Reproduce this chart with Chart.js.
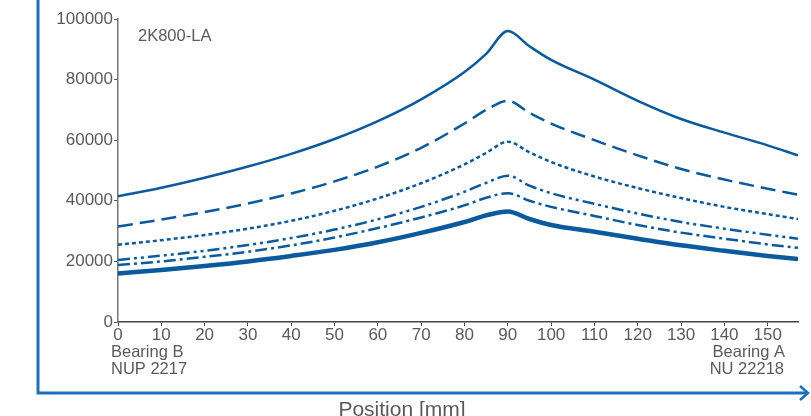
<!DOCTYPE html>
<html>
<head>
<meta charset="utf-8">
<script src="https://cdn.jsdelivr.net/npm/chart.js@4/dist/chart.umd.min.js"></script>
<style>
  html, body { margin: 0; padding: 0; background: #fff; }
  #wrap { width: 811px; height: 416px; }
</style>
</head>
<body>
<div id="wrap"><canvas id="loadChart" width="811" height="416"></canvas></div>
<script>
// positions along the shaft [mm]
const positions = [0, 10, 20, 30, 40, 50, 60, 70, 80, 85, 90, 95, 100, 110, 120, 130, 140, 150, 157];

// one array per curve, top to bottom
const curveSolid   = [41500, 44300, 47600, 51300, 55500, 60400, 66300, 73500, 82500, 88500, 96000, 91000, 86500, 80000, 73000, 67000, 62500, 58300, 55000];
const curveDash    = [31500, 33800, 36300, 39100, 42400, 46400, 51300, 57500, 65500, 70000, 73000, 69000, 65500, 60000, 55000, 50500, 47000, 44000, 42000];
const curveDot     = [25500, 27000, 28700, 30800, 33400, 36700, 40800, 45800, 52000, 55800, 59500, 56000, 52800, 48000, 44200, 40900, 38000, 35600, 34000];
const curveDashDD  = [20500, 21900, 23500, 25400, 27700, 30500, 33900, 38000, 43000, 45900, 48300, 45000, 42500, 39000, 35800, 33000, 30800, 28800, 27500];
const curveDashD   = [18800, 20000, 21500, 23200, 25300, 27900, 31000, 34500, 38500, 41000, 42500, 40000, 38000, 35000, 32000, 29500, 27500, 25600, 24500];
const curveThick   = [16000, 17200, 18500, 20000, 21800, 23800, 26300, 29400, 33000, 35200, 36500, 34000, 32000, 29800, 27500, 25300, 23500, 21800, 20800];

const xTicks = [0, 10, 20, 30, 40, 50, 60, 70, 80, 90, 100, 110, 120, 130, 140, 150];
const yTicks = [0, 20000, 40000, 60000, 80000, 100000];

const lineBlue = '#0b5a9e';
const frameBlue = '#1c6fbd';
const textGrey = '#5a5a5a';
const fontFam = '"Liberation Sans", Arial, sans-serif';

function toPoints(arr) {
    return arr.map((v, i) => ({ x: positions[i], y: v }));
}

function makeSet(arr, width, dash) {
    return {
        data: toPoints(arr),
        borderColor: lineBlue,
        borderWidth: width,
        borderDash: dash,
        pointRadius: 0,
        cubicInterpolationMode: 'monotone',
        fill: false
    };
}

// frame, arrow and free text labels
const decorPlugin = {
    id: 'decor',
    afterDraw(chart) {
        const ctx = chart.ctx;
        ctx.save();
        ctx.strokeStyle = frameBlue;
        ctx.lineWidth = 3;
        ctx.beginPath();
        ctx.moveTo(38, 0);
        ctx.lineTo(38, 393);
        ctx.lineTo(807, 393);
        ctx.stroke();
        ctx.lineWidth = 2.5;
        ctx.beginPath();
        ctx.moveTo(800, 386);
        ctx.lineTo(808, 393);
        ctx.lineTo(800, 400);
        ctx.stroke();

        ctx.fillStyle = textGrey;
        ctx.textBaseline = 'middle';
        ctx.font = '16.5px ' + fontFam;
        ctx.textAlign = 'left';
        ctx.fillText('2K800-LA', 138, 36);
        ctx.fillText('Bearing B', 111, 352);
        ctx.fillText('NUP 2217', 111, 369);
        ctx.textAlign = 'right';
        ctx.fillText('Bearing A', 785, 352);
        ctx.fillText('NU 22218', 784, 369);
        ctx.textAlign = 'center';
        ctx.font = '21px ' + fontFam;
        ctx.fillText('Position [mm]', 402, 410);
        ctx.restore();
    }
};

new Chart(document.getElementById('loadChart'), {
    type: 'line',
    data: {
        datasets: [
            makeSet(curveSolid, 2.5, []),
            makeSet(curveDash, 2.5, [15, 7]),
            makeSet(curveDot, 2.5, [4, 3]),
            makeSet(curveDashDD, 2.5, [12, 4, 3, 4, 3, 4]),
            makeSet(curveDashD, 2.5, [12, 4, 3, 4]),
            makeSet(curveThick, 4.5, [])
        ]
    },
    options: {
        responsive: false,
        animation: false,
        layout: { padding: { top: 19, right: 13, left: 0, bottom: 0 } },
        plugins: {
            legend: { display: false },
            tooltip: { enabled: false }
        },
        scales: {
            x: {
                type: 'linear',
                min: 0,
                max: 157,
                afterBuildTicks(scale) {
                    scale.ticks = xTicks.map(v => ({ value: v }));
                },
                afterFit(scale) { scale.height = 94; },
                border: { color: '#444', width: 1.5 },
                grid: { drawOnChartArea: false, tickLength: 4, color: '#444', offset: false },
                ticks: {
                    color: textGrey,
                    font: { family: fontFam, size: 17 },
                    padding: -1,
                    maxRotation: 0,
                    autoSkip: false,
                    callback: v => String(v)
                }
            },
            y: {
                min: 0,
                max: 100000,
                afterBuildTicks(scale) {
                    scale.ticks = yTicks.map(v => ({ value: v }));
                },
                afterFit(scale) { scale.width = 118; },
                border: { color: '#777', width: 1.5 },
                grid: { drawOnChartArea: false, tickLength: 4, color: '#555' },
                ticks: {
                    color: textGrey,
                    font: { family: fontFam, size: 17 },
                    padding: 1,
                    callback: v => String(v)
                }
            }
        }
    },
    plugins: [decorPlugin]
});
</script>
</body>
</html>
